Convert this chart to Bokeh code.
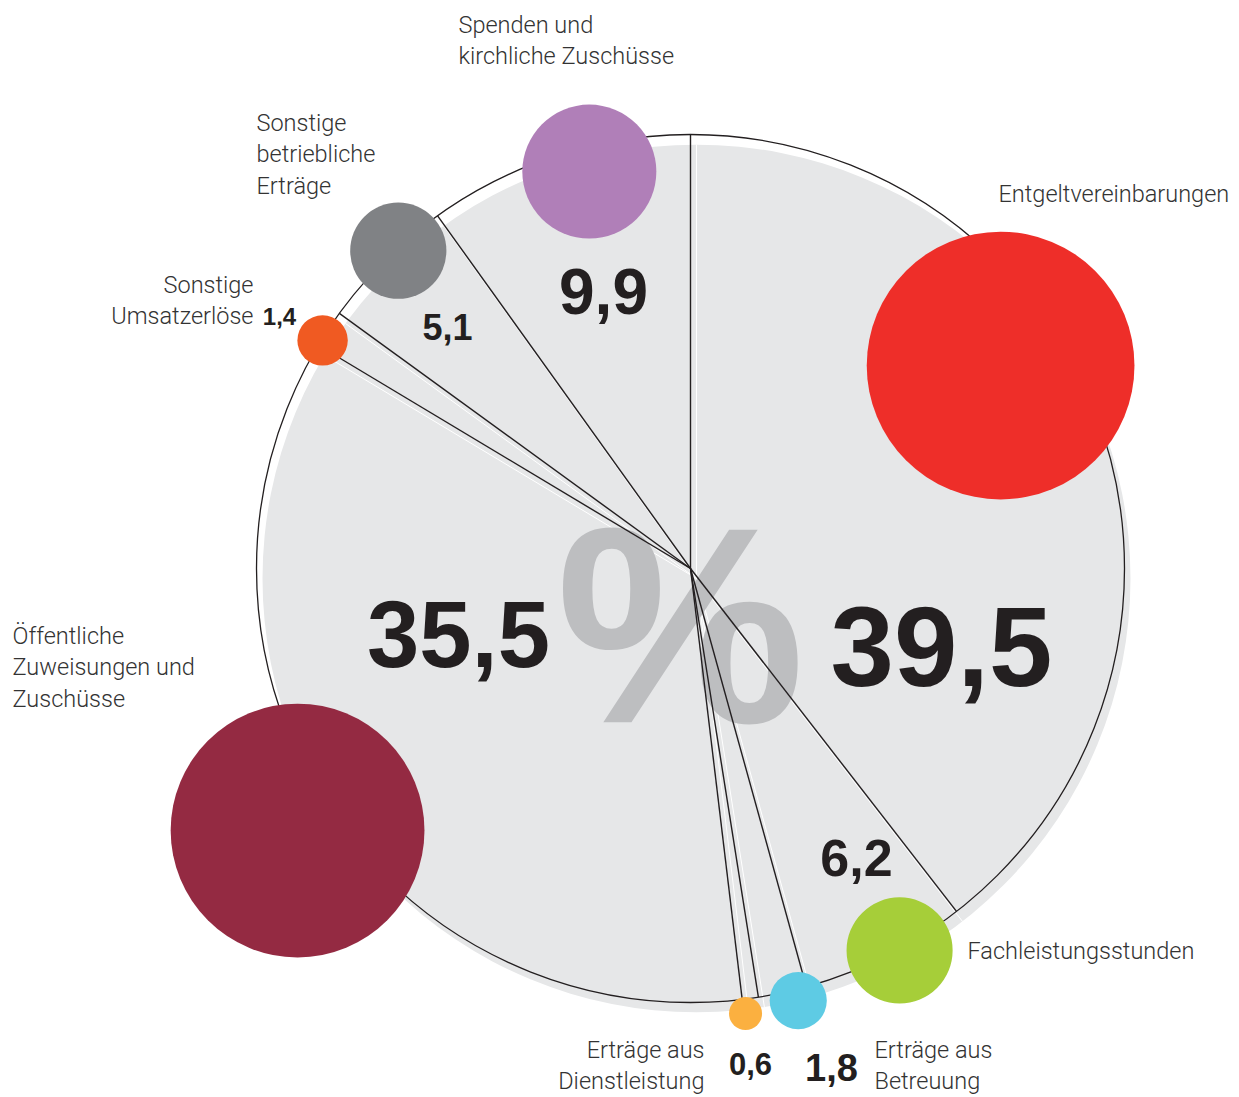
import numpy as np
from bokeh.plotting import figure
from bokeh.models import Range1d, ColumnDataSource
from bokeh.core.properties import value
from bokeh.embed import file_html
from bokeh.resources import INLINE

# ---------------- data ----------------
categories = [
    "Entgeltvereinbarungen",
    "Fachleistungsstunden",
    "Erträge aus Betreuung",
    "Erträge aus Dienstleistung",
    "Öffentliche Zuweisungen und Zuschüsse",
    "Sonstige Umsatzerlöse",
    "Sonstige betriebliche Erträge",
    "Spenden und kirchliche Zuschüsse",
]
values = [39.5, 6.2, 1.8, 0.6, 35.5, 1.4, 5.1, 9.9]
value_labels = ["39,5", "6,2", "1,8", "0,6", "35,5", "1,4", "5,1", "9,9"]
label_lines = [
    ["Entgeltvereinbarungen"],
    ["Fachleistungsstunden"],
    ["Erträge aus", "Betreuung"],
    ["Erträge aus", "Dienstleistung"],
    ["Öffentliche", "Zuweisungen und", "Zuschüsse"],
    ["Sonstige", "Umsatzerlöse"],
    ["Sonstige", "betriebliche", "Erträge"],
    ["Spenden und", "kirchliche Zuschüsse"],
]

# ---------------- styles / layout ----------------
colors = ["#ee2e29", "#a6ce39", "#5ecbe4", "#fbb040",
          "#942a42", "#f05a22", "#808285", "#b07fb8"]
PIE_FILL = "#e6e7e8"
INK = "#231f20"
TEXT = "#333333"
PCT_GRAY = "#bdbec0"
NUM_FONT = "Liberation Sans"
LAB_FONT = "Roboto Light, Roboto"

W, H = 1239, 1097
BASE_K = 0.34  # empirical baseline correction (fraction of font size)


def sy(y):
    return H - y  # screen y -> data y


def tb(y, size):
    # wanted screen baseline -> data y for the text glyph
    return sy(y - BASE_K * size)


CX, CY = 690, sy(568)
R = 434
SHADOW_DX, SHADOW_DY = 6, -10

bubble_angle = [33.2, -61.3, -76.0, -82.95, 213.7, 148.2, 132.6, 104.3]
bubble_dist = [370.6, 435.4, 445.3, 448.4, 472.3, 432.9, 431.7, 409.6]
bubble_scale = 21.3

num_x = [941, 856, 831, 750, 458, 279, 447, 603]
num_base = [685, 875, 1080, 1074, 665, 324, 339, 313]
num_size = [114, 52, 38, 31, 94, 24, 36, 64]

lab_x = [998, 967, 874, 704, 12, 253, 256, 458]
lab_base = [201, 958, 1057, 1057, 643, 292, 130, 32]
lab_align = ["left", "left", "left", "right", "left", "right", "left", "left"]
LAB_SIZE = 23.5
LINE_H = 31.5

# ---------------- figure ----------------
p = figure(width=W, height=H, output_backend="svg", toolbar_location=None,
           x_range=Range1d(0, W), y_range=Range1d(0, H),
           min_border=0, outline_line_color=None, background_fill_color="white")
p.axis.visible = False
p.grid.visible = False

# pie background (offset disc)
p.circle(x=[CX + SHADOW_DX], y=[CY + SHADOW_DY], radius=R,
         fill_color=PIE_FILL, line_color=None)

# wedge boundaries
cum = np.concatenate([[0], np.cumsum(values)[:-1]])
bound = np.deg2rad(90 - 3.6 * cum)
p.segment(x0=[CX + SHADOW_DX] * len(bound), y0=[CY + SHADOW_DY] * len(bound),
          x1=CX + SHADOW_DX + R * np.cos(bound), y1=CY + SHADOW_DY + R * np.sin(bound),
          line_color="white", line_width=1)

# big percent sign
p.text(x=[680], y=[tb(720, 280)], text=["%"], text_font=value(NUM_FONT),
       text_font_style="bold", text_font_size="280px", text_color=PCT_GRAY,
       text_align="center", text_baseline="alphabetic")

# outline
p.circle(x=[CX], y=[CY], radius=R, fill_color=None, line_color=INK, line_width=1.3)

p.segment(x0=[CX] * len(bound), y0=[CY] * len(bound),
          x1=CX + R * np.cos(bound), y1=CY + R * np.sin(bound),
          line_color=INK, line_width=1.4)

# bubbles
ba = np.deg2rad(bubble_angle)
bd = np.array(bubble_dist)
bsrc = ColumnDataSource(dict(
    x=CX + bd * np.cos(ba), y=CY + bd * np.sin(ba),
    r=bubble_scale * np.sqrt(values), c=colors))
p.circle(x="x", y="y", radius="r", fill_color="c", line_color=None, source=bsrc)

# value numbers
for i, lab in enumerate(value_labels):
    p.text(x=[num_x[i]], y=[tb(num_base[i], num_size[i])], text=[lab],
           text_font=value(NUM_FONT), text_font_style="bold",
           text_font_size=f"{num_size[i]}px", text_color=INK,
           text_align="center", text_baseline="alphabetic")

# category labels
for i, lines in enumerate(label_lines):
    for j, line in enumerate(lines):
        p.text(x=[lab_x[i]], y=[tb(lab_base[i] + j * LINE_H, LAB_SIZE)], text=[line],
               text_font=value(LAB_FONT), text_font_size=f"{LAB_SIZE}px",
               text_color=TEXT, text_align=lab_align[i],
               text_baseline="alphabetic")

open("out.html", "w").write(file_html(p, INLINE))
